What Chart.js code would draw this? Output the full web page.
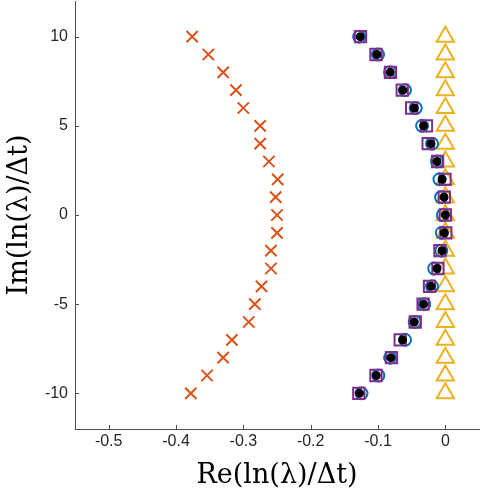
<!DOCTYPE html>
<html>
<head>
<meta charset="utf-8">
<script src="https://cdn.jsdelivr.net/npm/chart.js@4"></script>
<style>
	body { margin: 0; background: #fff; }
	canvas { display: block; }
</style>
</head>
<body>
<canvas id="eigChart" width="482" height="492"></canvas>
<script>
// imaginary part, shared by every series
const imagValues = [10, 9, 8, 7, 6, 5, 4, 3, 2, 1, 0, -1, -2, -3, -4, -5, -6, -7, -8, -9, -10];

const crossRe = [-0.376, -0.352, -0.330, -0.311, -0.300, -0.275, -0.275, -0.262, -0.249, -0.252, -0.250,
	-0.250, -0.259, -0.259, -0.273, -0.283, -0.292, -0.317, -0.330, -0.354, -0.378];
const circleRe = [-0.128, -0.100, -0.082, -0.060, -0.044, -0.0345, -0.0198, -0.0124, -0.0087, -0.0063, -0.0037,
	-0.0052, -0.006, -0.0165, -0.0198, -0.0315, -0.0455, -0.0598, -0.082, -0.0995, -0.1245];
const triangleRe = [0, 0, 0, 0, 0, 0, 0, 0, 0, 0, 0, 0, 0, 0, 0, 0, 0, 0, 0, 0, 0];
const squareRe = [-0.126, -0.103, -0.0815, -0.064, -0.050, -0.028, -0.0255, -0.0115, -0.0005, -0.0015, 0,
	0.0007, -0.008, -0.011, -0.0235, -0.033, -0.0447, -0.067, -0.080, -0.103, -0.1285];
const dotRe = [-0.1265, -0.1016, -0.0818, -0.0629, -0.0461, -0.0323, -0.0213, -0.0124, -0.0049, -0.0019, 0,
	-0.0015, -0.005, -0.0124, -0.0213, -0.0323, -0.0461, -0.0635, -0.081, -0.1025, -0.1275];

const xTicks = [-0.5, -0.4, -0.3, -0.2, -0.1, 0];
const xTickLabels = ["-0.5", "-0.4", "-0.3", "-0.2", "-0.1", "0"];
const yTicks = [-10, -5, 0, 5, 10];
const yTickLabels = ["-10", "-5", "0", "5", "10"];

function toPoints(reList) {
	return reList.map((re, i) => ({ x: re, y: imagValues[i] }));
}

function makeSet(reList, style, color, radius, order) {
	return {
		data: toPoints(reList),
		showLine: false,
		pointStyle: style,
		pointRadius: radius,
		pointHoverRadius: radius,
		borderColor: color,
		backgroundColor: style == "circle" && color == "#000" ? "#000" : "rgba(0,0,0,0)",
		pointBorderWidth: 2,
		order: order,
	};
}

// matlab style ticks pointing into the plot
const innerTicks = {
	id: "innerTicks",
	afterDatasetsDraw(chart) {
		const ctx = chart.ctx;
		const area = chart.chartArea;
		ctx.save();
		ctx.strokeStyle = "#4d4d4d";
		ctx.lineWidth = 1;
		ctx.beginPath();
		xTicks.forEach((v) => {
			const px = Math.round(chart.scales.x.getPixelForValue(v)) + 0.5;
			ctx.moveTo(px, area.bottom);
			ctx.lineTo(px, area.bottom - 4);
		});
		yTicks.forEach((v) => {
			const py = Math.round(chart.scales.y.getPixelForValue(v)) + 0.5;
			ctx.moveTo(area.left, py);
			ctx.lineTo(area.left + 4, py);
		});
		ctx.stroke();
		ctx.restore();
	},
};

const tickFont = { family: "'Liberation Sans', Arial, sans-serif", size: 16 };
// lineHeight 0 keeps chart.js from padding the top/bottom of the y axis
const yTickFont = { family: "'Liberation Sans', Arial, sans-serif", size: 16, lineHeight: 0 };
const titleFont = { family: "'DejaVu Serif', serif", size: 27 };

new Chart(document.getElementById("eigChart"), {
	type: "scatter",
	data: {
		datasets: [
			makeSet(crossRe, "crossRot", "#D95319", 8, 4),
			makeSet(triangleRe, "triangle", "#EDB120", 10, 3),
			makeSet(circleRe, "circle", "#0072BD", 6, 2),
			makeSet(squareRe, "rect", "#7E2F8E", 8, 1),
			makeSet(dotRe, "circle", "#000", 3.5, 0),
		],
	},
	options: {
		responsive: false,
		animation: false,
		layout: { autoPadding: false, padding: { top: 1, right: 3, left: 0, bottom: 0 } },
		plugins: {
			legend: { display: false },
			tooltip: { enabled: false },
		},
		scales: {
			x: {
				type: "linear",
				min: -0.55,
				max: 0.05,
				afterBuildTicks: (scale) => {
					scale.ticks = xTicks.map((v) => ({ value: v }));
				},
				afterFit: (scale) => {
					scale.height = 63;
				},
				grid: { drawOnChartArea: false, drawTicks: false },
				border: { display: true, color: "#4d4d4d", width: 1 },
				ticks: {
					color: "#262626",
					font: tickFont,
					padding: 3,
					maxRotation: 0,
					callback: (v) => xTickLabels[xTicks.indexOf(v)],
				},
				title: {
					display: true,
					text: "Re(ln(λ)/Δt)",
					color: "#000",
					font: titleFont,
					padding: { top: 0, bottom: 0 },
				},
			},
			y: {
				type: "linear",
				min: -12,
				max: 12,
				afterBuildTicks: (scale) => {
					scale.ticks = yTicks.map((v) => ({ value: v }));
				},
				afterFit: (scale) => {
					scale.width = 75;
				},
				// invisible outer ticks give the label gap without padding the axis ends
				grid: { drawOnChartArea: false, drawTicks: true, tickLength: 7, tickColor: "rgba(0,0,0,0)" },
				border: { display: true, color: "#4d4d4d", width: 1 },
				ticks: {
					color: "#262626",
					font: yTickFont,
					padding: 0,
					callback: (v) => yTickLabels[yTicks.indexOf(v)],
				},
				title: {
					display: true,
					text: "Im(ln(λ)/Δt)",
					color: "#000",
					font: titleFont,
					padding: { top: 4, bottom: 0 },
				},
			},
		},
	},
	plugins: [innerTicks],
});
</script>
</body>
</html>
